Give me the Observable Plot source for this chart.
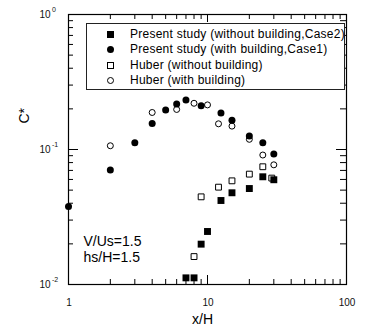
<!DOCTYPE html>
<html><head><meta charset="utf-8">
<script src="https://cdn.jsdelivr.net/npm/d3@7"></script>
<script src="https://cdn.jsdelivr.net/npm/@observablehq/plot@0.6"></script>
<style>
body{margin:0;background:#fff;}
#wrap{position:relative;width:367px;height:332px;font-family:"Liberation Sans",Arial,sans-serif;color:#000;}
#legend{position:absolute;left:86px;top:23px;width:259px;height:67px;border:1px solid #222;background:#fff;box-sizing:border-box;}
.row{position:absolute;left:0;width:100%;height:15px;}
.sym{position:absolute;box-sizing:border-box;}
.lab{position:absolute;left:43px;top:0;font-size:12px;line-height:15px;letter-spacing:0.25px;white-space:nowrap;}
</style>
</head><body>
<div id="wrap"></div>
<script>
// ---- data ----
const case2X = [7, 8, 9, 10, 12.5, 15, 20, 25, 30];
const case2Y = [0.0112, 0.0112, 0.0199, 0.0247, 0.0419, 0.0478, 0.0514, 0.0628, 0.0597];
const case1X = [1, 2, 3, 4, 5, 6, 7, 9, 12.5, 15, 20, 25, 30];
const case1Y = [0.0378, 0.0704, 0.112, 0.156, 0.196, 0.217, 0.233, 0.211, 0.186, 0.165, 0.126, 0.112, 0.0925];
const huberNoX = [8, 9, 12, 15, 20, 25, 29];
const huberNoY = [0.0161, 0.0446, 0.0526, 0.0586, 0.0657, 0.0745, 0.0614];
const huberWithX = [2, 4, 6, 8, 10, 12, 15, 20, 25, 30];
const huberWithY = [0.1066, 0.188, 0.198, 0.22, 0.214, 0.155, 0.149, 0.119, 0.091, 0.077];
const seriesNames = [
  "Present study (without building,Case2)",
  "Present study (with building,Case1)",
  "Huber (without building)",
  "Huber (with building)"
];
const xMajor = [1, 10, 100];
const xMinor = [2,3,4,5,6,7,8,9,20,30,40,50,60,70,80,90];
const yMajor = [0.01, 0.1, 1];
const yMinor = [0.02,0.03,0.04,0.05,0.06,0.07,0.08,0.09,0.2,0.3,0.4,0.5,0.6,0.7,0.8,0.9];
const xTickLabels = ["1", "10", "100"];
const yExponents = ["-2", "-1", "0"];
const notes = ["V/Us=1.5", "hs/H=1.5"];
const xLabel = "x/H", yLabel = "C*";

const zip = (X, Y) => X.map((x, i) => ({x, y: Y[i]}));

const W = 367, H = 332, mL = 68, mR = 21, mT = 14, mB = 48;
const iw = W - mL - mR, ih = H - mT - mB;
const font = "Liberation Sans, Arial, sans-serif";

const chart = Plot.plot({
  width: W, height: H,
  marginLeft: mL, marginRight: mR, marginTop: mT, marginBottom: mB,
  style: {fontFamily: font, background: "white", color: "#000", overflow: "visible"},
  x: {type: "log", domain: [1, 100], axis: null},
  y: {type: "log", domain: [0.01, 1], axis: null},
  marks: [
    // inward ticks on all four sides
    Plot.ruleX(xMinor, {x: d => d, insetTop: ih - 5, stroke: "#000"}),
    Plot.ruleX(xMinor, {x: d => d, insetBottom: ih - 5, stroke: "#000"}),
    Plot.ruleX(xMajor, {x: d => d, insetTop: ih - 9, stroke: "#000"}),
    Plot.ruleX(xMajor, {x: d => d, insetBottom: ih - 8, stroke: "#000"}),
    Plot.ruleY(yMinor, {y: d => d, insetRight: iw - 5, stroke: "#000"}),
    Plot.ruleY(yMinor, {y: d => d, insetLeft: iw - 6, stroke: "#000"}),
    Plot.ruleY(yMajor, {y: d => d, insetRight: iw - 10, stroke: "#000"}),
    Plot.ruleY(yMajor, {y: d => d, insetLeft: iw - 10, stroke: "#000"}),
    Plot.frame({stroke: "#000", strokeWidth: 1.2}),
    // tick labels
    Plot.text(xMajor, {x: d => d, frameAnchor: "bottom", text: (d, i) => xTickLabels[i],
      lineAnchor: "top", dy: 14, fontSize: 10, fill: "#111", dx: 0.5,
      style: {letterSpacing: "1.2px"}}),
    Plot.text(yMajor, {y: d => d, frameAnchor: "left", text: () => "10",
      textAnchor: "end", dx: -18, fontSize: 10, fill: "#111"}),
    Plot.text(yMajor, {y: d => d, frameAnchor: "left", text: (d, i) => yExponents[i],
      textAnchor: "start", dx: -16.5, dy: -5, fontSize: 7, fill: "#111"}),
    // axis titles
    Plot.text([xLabel], {frameAnchor: "bottom", text: d => d, dx: -5, dy: 39, fontSize: 14}),
    Plot.text([yLabel], {frameAnchor: "left", text: d => d, rotate: -90, dx: -44, dy: -26, fontSize: 14}),
    // annotations
    Plot.text([notes[0]], {frameAnchor: "bottom-left", text: d => d, textAnchor: "start",
      lineAnchor: "bottom", dx: 15, dy: -39, fontSize: 14, style: {letterSpacing: "1.4px"}}),
    Plot.text([notes[1]], {frameAnchor: "bottom-left", text: d => d, textAnchor: "start",
      lineAnchor: "bottom", dx: 15, dy: -23, fontSize: 14, style: {letterSpacing: "1.4px"}}),
    // data
    Plot.dot(zip(huberNoX, huberNoY), {x: "x", y: "y", symbol: "square", r: 3.3, stroke: "#000", strokeWidth: 1, fill: "white"}),
    Plot.dot(zip(huberWithX, huberWithY), {x: "x", y: "y", symbol: "circle", r: 3, stroke: "#000", strokeWidth: 1, fill: "white"}),
    Plot.dot(zip(case2X, case2Y), {x: "x", y: "y", symbol: "square", r: 3.9, fill: "#000", stroke: "none"}),
    Plot.dot(zip(case1X, case1Y), {x: "x", y: "y", symbol: "circle", r: 3.5, fill: "#000", stroke: "none"})
  ]
});

const wrap = document.getElementById("wrap");
wrap.appendChild(chart);

// legend
const legend = document.createElement("div");
legend.id = "legend";
const symStyles = [
  "width:7px;height:7px;background:#000;",
  "width:7px;height:7px;background:#000;border-radius:50%;",
  "width:7px;height:7px;border:1px solid #000;background:#fff;",
  "width:7px;height:7px;border:1px solid #000;border-radius:50%;background:#fff;"
];
seriesNames.forEach((name, i) => {
  const row = document.createElement("div");
  row.className = "row";
  row.style.top = (3 + i * 15.3) + "px";
  const s = document.createElement("span");
  s.className = "sym";
  s.style.cssText = symStyles[i] + "left:20px;top:4px;";
  const t = document.createElement("span");
  t.className = "lab";
  t.textContent = name;
  row.appendChild(s); row.appendChild(t);
  legend.appendChild(row);
});
wrap.appendChild(legend);
</script>
</body></html>
